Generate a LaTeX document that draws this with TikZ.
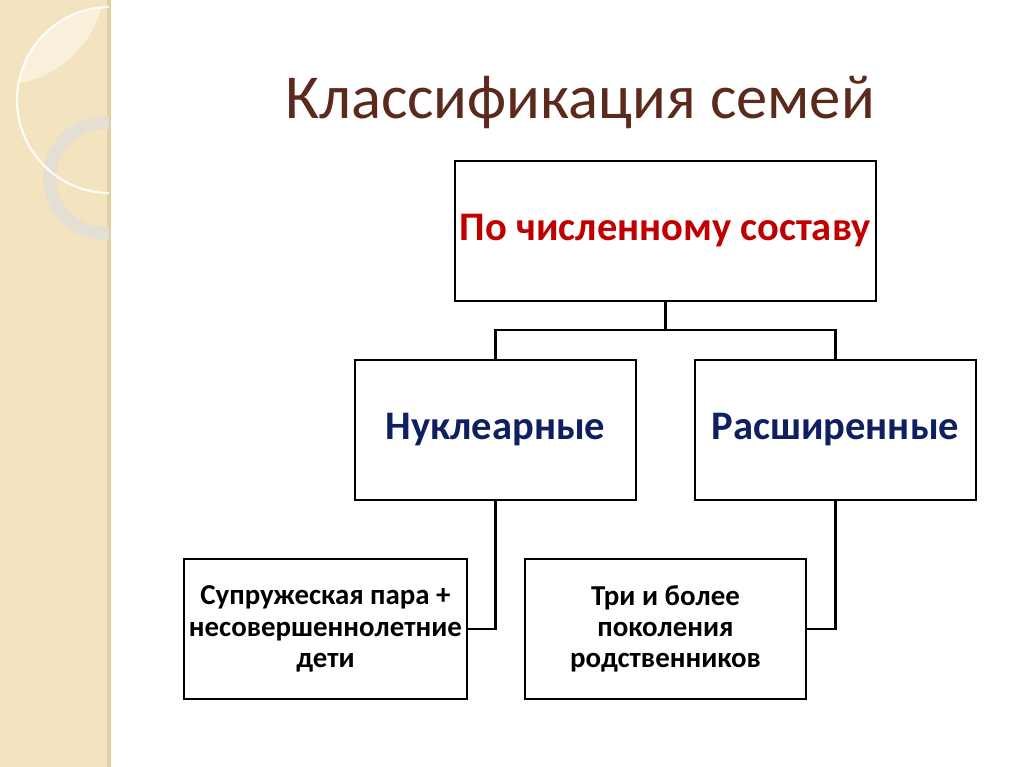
\documentclass[tikz,border=0pt]{standalone}
\usepackage{fontspec}
\setmainfont{Carlito}
\usepackage{xcolor}
\usepackage{tikz}
\definecolor{famband}{HTML}{F3E4BF}
\definecolor{famedge}{HTML}{E2CFA2}
\definecolor{famring}{HTML}{E2DFD6}
\definecolor{famtitle}{HTML}{5C2A1C}
\definecolor{famred}{HTML}{C00000}
\definecolor{famnavy}{HTML}{0F2062}
\newcommand{\px}{0.703pt}

\begin{document}
\begin{tikzpicture}[x=\px,y=-\px,
  box/.style={draw=black,line width=2pt,fill=white,inner sep=2pt,align=center,
    minimum height=140*\px,font=\bfseries\fontsize{28.5}{34}\selectfont},
  smallbox/.style={box,font=\bfseries\fontsize{20.3}{22}\selectfont},
  link/.style={draw=black,line width=2pt}]
  \useasboundingbox (0,0) rectangle (1024,767);
  % decorative band on the left
  \fill[white] (0,0) rectangle (1024,767);
  \fill[famband] (0,0) rectangle (111,767);
  \fill[famedge] (107,0) rectangle (111,767);
  \begin{scope}
    \clip (0,0) rectangle (109,767);
    \begin{scope}
      \clip (110,100) circle[radius=93];
      \fill[white,opacity=0.45] (0,-20) circle[radius=105];
    \end{scope}
    \fill[famring,opacity=0.9,even odd rule] (105,178) circle[radius=62] (105,178) circle[radius=49];
    \draw[white,line width=1.5pt,opacity=0.9] (110,100) circle[radius=93];
  \end{scope}
  % title
  \node[text=famtitle,anchor=base,font=\fontsize{44}{50}\selectfont] (title) at (580,118) {Классификация семей};
  % boxes
  \node[box,text=famred,minimum width=421*\px] (top) at (665.5,231) {По численному составу};
  \node[box,text=famnavy,minimum width=281*\px] (nuc) at (495.5,430) {Нуклеарные};
  \node[box,text=famnavy,minimum width=281*\px] (ext) at (835.5,430) {Расширенные};
  \node[smallbox,minimum width=283*\px] (nucdesc) at (325.5,629) {Супружеская пара +\\несовершеннолетние\\дети};
  \node[smallbox,minimum width=281*\px] (extdesc) at (665.5,629) {Три и более\\поколения\\родственников};
  % connectors
  \coordinate (split) at (665.5,330);
  \draw[link] (top.south) -- (split);
  \draw[link] (split) -| (nuc.north);
  \draw[link] (split) -| (ext.north);
  \draw[link] (nuc.south) |- (nucdesc.east);
  \draw[link] (ext.south) |- (extdesc.east);
\end{tikzpicture}
\end{document}
